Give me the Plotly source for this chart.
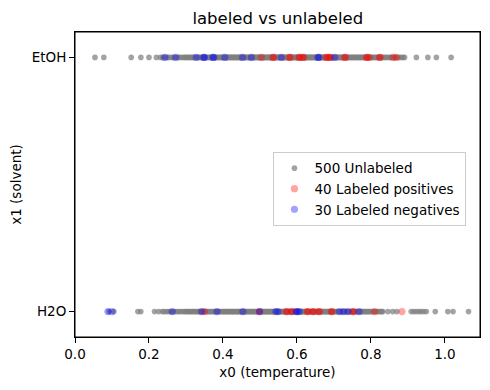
import plotly.graph_objects as go

CATEGORIES = ["H2O", "EtOH"]

UNLAB_ETOH_X = [
    0.054, 0.078, 0.152, 0.178, 0.200, 0.220,
    0.231, 0.237, 0.243, 0.250, 0.254, 0.261, 0.266, 0.272, 0.279, 0.283, 0.289, 0.294, 0.298,
    0.302, 0.305, 0.309, 0.313, 0.316, 0.320, 0.322, 0.327, 0.330, 0.335, 0.337, 0.342, 0.344,
    0.347, 0.351, 0.353, 0.358, 0.360, 0.364, 0.367, 0.370, 0.372, 0.377, 0.380, 0.383, 0.386,
    0.389, 0.392, 0.395, 0.398,
    0.401, 0.404, 0.407, 0.409, 0.412, 0.414, 0.417, 0.419, 0.422, 0.424, 0.427, 0.429, 0.432,
    0.434, 0.437, 0.439, 0.442, 0.444, 0.447, 0.449, 0.452, 0.455, 0.457, 0.460, 0.462, 0.465,
    0.467, 0.470, 0.472, 0.475, 0.477, 0.480, 0.482, 0.485, 0.487, 0.490, 0.492, 0.495, 0.497, 0.499,
    0.502, 0.504, 0.506, 0.508, 0.511, 0.513, 0.515, 0.518, 0.520, 0.522, 0.524, 0.527, 0.529,
    0.531, 0.533, 0.536, 0.538, 0.540, 0.542, 0.545, 0.547, 0.549, 0.551, 0.554, 0.556, 0.558,
    0.560, 0.563, 0.565, 0.567, 0.569, 0.572, 0.574, 0.576, 0.578, 0.581, 0.583, 0.585, 0.587,
    0.590, 0.592, 0.594, 0.596, 0.598,
    0.601, 0.603, 0.605, 0.608, 0.610, 0.612, 0.614, 0.617, 0.619, 0.621, 0.623, 0.626, 0.628,
    0.630, 0.632, 0.635, 0.637, 0.639, 0.641, 0.644, 0.646, 0.648, 0.650, 0.653, 0.655, 0.657,
    0.659, 0.662, 0.664, 0.666, 0.668, 0.671, 0.673, 0.675, 0.677, 0.680, 0.682, 0.684, 0.686,
    0.689, 0.691, 0.693, 0.695, 0.698,
    0.701, 0.704, 0.707, 0.709, 0.712, 0.715, 0.717, 0.720, 0.723, 0.725, 0.728, 0.731, 0.734,
    0.736, 0.739, 0.742, 0.745, 0.748, 0.751, 0.754, 0.757, 0.760, 0.763, 0.766, 0.769, 0.772,
    0.775, 0.778, 0.781, 0.785, 0.788, 0.791, 0.794, 0.797,
    0.801, 0.805, 0.809, 0.812, 0.816, 0.820, 0.824, 0.828, 0.833, 0.837, 0.842, 0.846, 0.851,
    0.855, 0.860, 0.865, 0.870, 0.876, 0.882, 0.887,
    0.891, 0.923, 0.954, 0.977, 1.017,
]

UNLAB_H2O_X = [
    0.092, 0.105, 0.170, 0.178, 0.215, 0.226,
    0.236, 0.241, 0.247, 0.252, 0.258, 0.263, 0.269, 0.274, 0.280, 0.284, 0.290, 0.295, 0.299,
    0.303, 0.306, 0.310, 0.313, 0.317, 0.320, 0.324, 0.327, 0.331, 0.334, 0.338, 0.341, 0.345,
    0.348, 0.352, 0.355, 0.359, 0.362, 0.366, 0.369, 0.373, 0.376, 0.379, 0.383, 0.386, 0.389,
    0.393, 0.396, 0.399,
    0.402, 0.404, 0.407, 0.410, 0.412, 0.415, 0.417, 0.420, 0.423, 0.425, 0.428, 0.430, 0.433,
    0.436, 0.438, 0.441, 0.443, 0.446, 0.449, 0.451, 0.454, 0.456, 0.459, 0.462, 0.464, 0.467,
    0.469, 0.472, 0.475, 0.477, 0.480, 0.482, 0.485, 0.488, 0.490, 0.493, 0.495, 0.498,
    0.501, 0.503, 0.505, 0.508, 0.510, 0.512, 0.515, 0.517, 0.519, 0.522, 0.524, 0.526, 0.529,
    0.531, 0.533, 0.536, 0.538, 0.540, 0.543, 0.545, 0.547, 0.550, 0.552, 0.554, 0.557, 0.559,
    0.561, 0.564, 0.566, 0.568, 0.571, 0.573, 0.575, 0.578, 0.580, 0.582, 0.585, 0.587, 0.589,
    0.592, 0.594, 0.596, 0.599,
    0.601, 0.603, 0.606, 0.608, 0.610, 0.613, 0.615, 0.617, 0.620, 0.622, 0.624, 0.627, 0.629,
    0.631, 0.634, 0.636, 0.638, 0.641, 0.643, 0.645, 0.648, 0.650, 0.652, 0.655, 0.657, 0.659,
    0.662, 0.664, 0.666, 0.669, 0.671, 0.673, 0.676, 0.678, 0.680, 0.683, 0.685, 0.687, 0.690,
    0.692, 0.694, 0.697, 0.699,
    0.702, 0.705, 0.708, 0.711, 0.714, 0.717, 0.720, 0.723, 0.726, 0.729, 0.732, 0.735, 0.738,
    0.741, 0.744, 0.747, 0.750, 0.753, 0.756, 0.759, 0.762, 0.765, 0.768, 0.771, 0.774, 0.777,
    0.780, 0.783, 0.786, 0.789, 0.792, 0.795, 0.798,
    0.802, 0.806, 0.810, 0.814, 0.818, 0.822, 0.826, 0.830, 0.832, 0.846, 0.859, 0.870,
    0.909, 0.916, 0.923, 0.930, 0.936, 0.943, 0.950, 0.974, 1.008, 1.022, 1.064,
]

POS_ETOH_X = [0.504, 0.535, 0.537, 0.580, 0.582, 0.605, 0.607, 0.616, 0.618, 0.679, 0.681,
              0.688, 0.690, 0.729, 0.731, 0.788, 0.790, 0.796, 0.823, 0.825, 0.860, 0.869]
POS_H2O_X = [0.350, 0.499, 0.571, 0.573, 0.585, 0.587, 0.628, 0.630, 0.643, 0.645, 0.659,
             0.661, 0.693, 0.695, 0.751, 0.753, 0.810, 0.884]

NEG_ETOH_X = [0.243, 0.272, 0.328, 0.348, 0.350, 0.373, 0.375, 0.405, 0.453, 0.477, 0.558,
              0.657, 0.659, 0.702]
NEG_H2O_X = [0.089, 0.100, 0.263, 0.342, 0.384, 0.454, 0.499, 0.543, 0.549, 0.598, 0.601,
             0.607, 0.715, 0.726, 0.738, 0.768]

X_TICKS = [0.0, 0.2, 0.4, 0.6, 0.8, 1.0]

FONT = "DejaVu Sans"

series = [
    ("500 Unlabeled", UNLAB_H2O_X, UNLAB_ETOH_X, "rgb(128,128,128)", 0.72, 5.6),
    ("40 Labeled positives", POS_H2O_X, POS_ETOH_X, "rgb(255,0,0)", 0.36, 7.2),
    ("30 Labeled negatives", NEG_H2O_X, NEG_ETOH_X, "rgb(0,0,255)", 0.36, 7.2),
]

fig = go.Figure()
for name, xh, xe, color, op, size in series:
    fig.add_trace(go.Scatter(
        x=list(xh) + list(xe),
        y=[CATEGORIES[0]] * len(xh) + [CATEGORIES[1]] * len(xe),
        mode="markers",
        name=name,
        marker=dict(color=color, opacity=op, size=size, line=dict(width=0)),
    ))

axis_common = dict(
    showline=True, mirror=True, linecolor="black", linewidth=1,
    ticks="outside", ticklen=5, tickwidth=1, tickcolor="black",
    showgrid=False, zeroline=False, automargin=False,
    tickfont=dict(family=FONT, size=13.5, color="black"),
)

# page body has an 8px default margin, so the figure is drawn 8px in from the window corner
fig.update_layout(
    width=482, height=382,
    margin=dict(l=67, r=10, t=24, b=53),
    paper_bgcolor="white", plot_bgcolor="white",
    font=dict(family=FONT, size=13.5, color="black"),
    title=dict(text="labeled vs unlabeled", x=(277.8 - 8) / 482, xanchor="center",
               y=1 - 10 / 382, yanchor="middle",
               font=dict(family=FONT, size=16.5, color="black")),
    xaxis=dict(range=[0, 1.095], tickvals=X_TICKS, tickformat=".1f",
               title=dict(text="x0 (temperature)", standoff=6,
                          font=dict(family=FONT, size=13.5)),
               **axis_common),
    yaxis=dict(type="category", categoryorder="array", categoryarray=CATEGORIES,
               range=[-0.1, 1.1],
               title=dict(text="x1 (solvent)", standoff=6,
                          font=dict(family=FONT, size=13.5)),
               **axis_common),
    legend=dict(x=0.49, y=0.607, xanchor="left", yanchor="top",
                bordercolor="#cccccc", borderwidth=1, bgcolor="rgba(255,255,255,0.8)",
                font=dict(family=FONT, size=13.5), tracegroupgap=0,
                itemsizing="trace"),
    shapes=[dict(type="rect", xref="paper", yref="paper", x0=0, x1=1, y0=0, y1=1,
                 line=dict(color="black", width=1), fillcolor="rgba(0,0,0,0)", layer="above")],
    showlegend=True,
)

fig.write_html("out.html")
